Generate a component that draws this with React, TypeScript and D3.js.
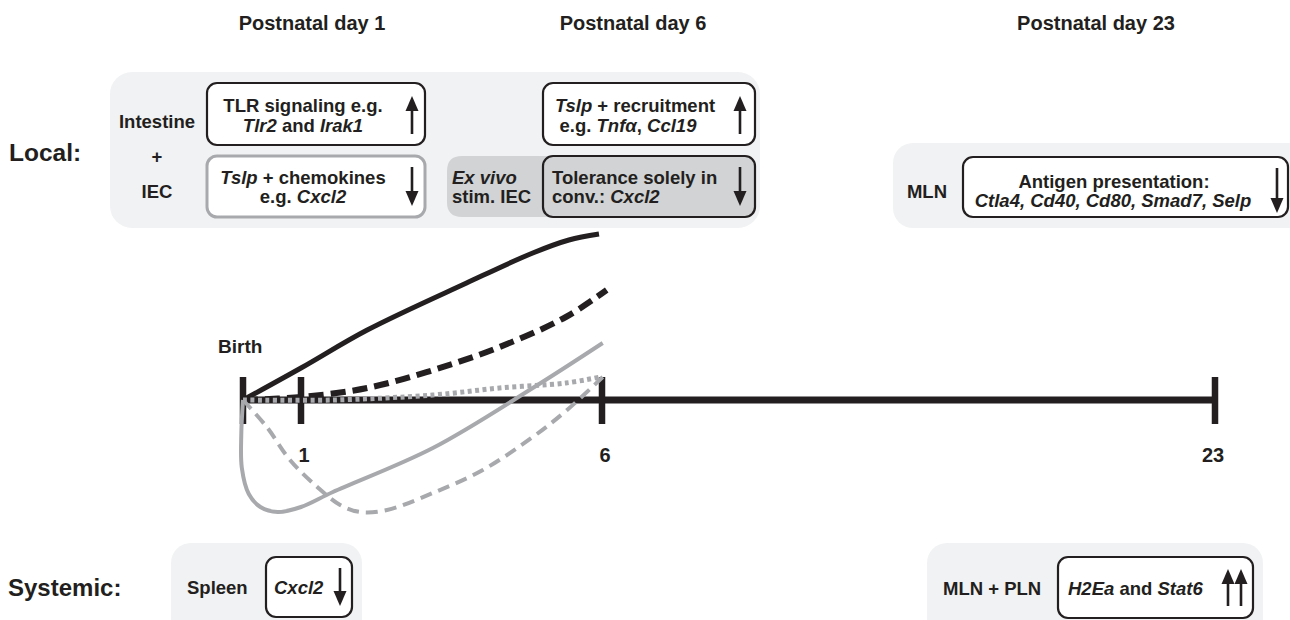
import React from "react";
import * as d3 from "d3";

// ---- data ----
const dayTicks = [0, 1, 6, 23];
const dayTickLabels = ["", "1", "6", "23"];
const periodLabels = ["Postnatal day 1", "Postnatal day 6", "Postnatal day 23"];

// curves: [postnatal day, relative expression level]
const blackSolid: [number, number][] = [[0, 0], [1, 32], [2.1, 70], [3.75, 117], [4.85, 147], [5.45, 160], [5.95, 166]];
const blackDashed: [number, number][] = [[0, 0], [1, 3], [2.1, 12], [3.2, 30], [4.3, 53], [5.4, 83], [6.13, 110]];
const grayDotted: [number, number][] = [[0, 0], [1.53, 0], [3.19, 5], [4.3, 12], [5.4, 17], [5.97, 23]];
const grayDashed: [number, number][] = [[0, 0], [0.41, -27], [0.81, -60], [1.27, -87], [1.65, -105], [1.98, -112], [2.43, -110], [3.19, -93], [4.02, -70], [4.85, -37], [5.42, -10], [6.02, 23]];
const graySolid: [number, number][] = [[0, 0], [-0.03, -35], [-0.02, -68], [0.1, -94], [0.3, -107], [0.6, -112], [1.0, -107], [1.53, -92], [3.19, -48], [4.85, 12], [6.02, 57]];

const BLACK = "#231f20";
const GRAY = "#a7a9ac";
const PANEL = "#f1f2f3";
const DARK = "#d1d3d4";
const FONT = "'Liberation Sans', Arial, Helvetica, sans-serif";

const xScale = d3.scaleLinear().domain(dayTicks).range([243, 301, 602, 1215]);
const yScale = d3.scaleLinear().domain([0, 100]).range([400, 300]);
const lineGen = d3
  .line<[number, number]>()
  .x((d) => xScale(d[0]))
  .y((d) => yScale(d[1]))
  .curve(d3.curveCatmullRom.alpha(0.5));

function Arrow({ x, tail, tip }: { x: number; tail: number; tip: number }) {
  const dir = tip < tail ? -1 : 1;
  const h = 15;
  const w = 6.5;
  const base = tip - dir * h;
  return (
    <g>
      <line x1={x} x2={x} y1={tail} y2={base} stroke={BLACK} strokeWidth={2.6} />
      <path d={`M${x - w},${base} L${x + w},${base} L${x},${tip} Z`} fill={BLACK} />
    </g>
  );
}

const T = (props: any) => (
  <text fontFamily={FONT} fontWeight="bold" fill={BLACK} fontSize={18.5} {...props} />
);
const I = ({ children }: any) => <tspan fontStyle="italic">{children}</tspan>;

export default function App() {
  return (
    <svg
      width={1290}
      height={620}
      viewBox="0 0 1290 620"
      style={{ position: "absolute", left: 0, top: 0, display: "block", background: "#fff" }}
    >
      {/* headings */}
      {periodLabels.map((l, i) => (
        <T key={l} x={[312, 633, 1096][i]} y={30} textAnchor="middle" fontSize={20}>
          {l}
        </T>
      ))}
      <T x={9} y={161} fontSize={24.5}>Local:</T>
      <T x={8} y={596} fontSize={24}>Systemic:</T>

      {/* local intestine panel */}
      <rect x={110} y={72} width={650} height={156} rx={22} fill={PANEL} />
      <T x={157} y={128} textAnchor="middle">Intestine</T>
      <T x={157} y={163} textAnchor="middle">+</T>
      <T x={157} y={198} textAnchor="middle">IEC</T>

      <rect x={207} y={83} width={218} height={62} rx={10} fill="#fff" stroke={BLACK} strokeWidth={2.2} />
      <T x={303} y={112} textAnchor="middle">TLR signaling e.g.</T>
      <T x={303} y={132} textAnchor="middle">
        <I>Tlr2</I> and <I>Irak1</I>
      </T>
      <Arrow x={412} tail={134} tip={96} />

      <rect x={207} y={156} width={218} height={61} rx={10} fill="#fff" stroke={GRAY} strokeWidth={3} />
      <T x={303} y={184} textAnchor="middle">
        <I>Tslp</I> + chemokines
      </T>
      <T x={303} y={203} textAnchor="middle">
        e.g. <I>Cxcl2</I>
      </T>
      <Arrow x={412} tail={167} tip={206} />

      <rect x={543} y={83} width={212} height={62} rx={10} fill="#fff" stroke={BLACK} strokeWidth={2.2} />
      <T x={635} y={112} textAnchor="middle">
        <I>Tslp</I> + recruitment
      </T>
      <T x={628} y={132} textAnchor="middle">
        e.g. <I>Tnfα</I>, <I>Ccl19</I>
      </T>
      <Arrow x={740} tail={134} tip={96} />

      <path d="M700,156 L462,156 Q447,156 447,171 L447,202 Q447,217 462,217 L700,217 Z" fill={DARK} />
      <T x={452} y={184}>
        <I>Ex vivo</I>
      </T>
      <T x={452} y={203}>stim. IEC</T>
      <rect x={543} y={156} width={212} height={61} rx={10} fill={DARK} stroke={BLACK} strokeWidth={2.2} />
      <T x={552} y={184}>Tolerance solely in</T>
      <T x={552} y={203}>
        conv.: <I>Cxcl2</I>
      </T>
      <Arrow x={740} tail={167} tip={206} />

      {/* MLN panel */}
      <rect x={893} y={143} width={420} height={85} rx={20} fill={PANEL} />
      <T x={927} y={198} textAnchor="middle">MLN</T>
      <rect x={963} y={157} width={325} height={60} rx={10} fill="#fff" stroke={BLACK} strokeWidth={2.2} />
      <T x={1114} y={188} textAnchor="middle">Antigen presentation:</T>
      <T x={1113} y={207} textAnchor="middle">
        <I>Ctla4, Cd40, Cd80, Smad7, Selp</I>
      </T>
      <Arrow x={1277} tail={168} tip={213} />

      {/* systemic panels */}
      <rect x={171} y={543} width={191} height={110} rx={20} fill={PANEL} />
      <T x={187} y={594}>Spleen</T>
      <rect x={266} y={557} width={86} height={60} rx={10} fill="#fff" stroke={BLACK} strokeWidth={2.2} />
      <T x={274} y={594}>
        <I>Cxcl2</I>
      </T>
      <Arrow x={340} tail={568} tip={606} />

      <rect x={927} y={543} width={336} height={110} rx={20} fill={PANEL} />
      <T x={943} y={595}>MLN + PLN</T>
      <rect x={1058} y={557} width={195} height={61} rx={10} fill="#fff" stroke={BLACK} strokeWidth={2.2} />
      <T x={1068} y={595}>
        <I>H2Ea</I> and <I>Stat6</I>
      </T>
      <Arrow x={1228} tail={606} tip={569} />
      <Arrow x={1241} tail={606} tip={569} />

      {/* timeline */}
      <line x1={xScale(0)} x2={xScale(23)} y1={yScale(0)} y2={yScale(0)} stroke={BLACK} strokeWidth={7} />
      {dayTicks.map((d) => (
        <line key={d} x1={xScale(d)} x2={xScale(d)} y1={377} y2={424} stroke={BLACK} strokeWidth={6.5} />
      ))}
      {dayTicks.map((d, i) =>
        dayTickLabels[i] ? (
          <T key={"l" + d} x={xScale(d) + (d === 23 ? -2 : 3)} y={462} textAnchor="middle" fontSize={20}>
            {dayTickLabels[i]}
          </T>
        ) : null
      )}
      <T x={218} y={353} fontSize={19}>Birth</T>

      {/* curves */}
      <path d={lineGen(blackSolid) || ""} fill="none" stroke={BLACK} strokeWidth={5} strokeLinecap="butt" />
      <path d={lineGen(blackDashed) || ""} fill="none" stroke={BLACK} strokeWidth={6} strokeDasharray="15 7" />
      <path d={lineGen(graySolid) || ""} fill="none" stroke={GRAY} strokeWidth={4} />
      <path d={lineGen(grayDashed) || ""} fill="none" stroke={GRAY} strokeWidth={4} strokeDasharray="12 7" />
      <path d={lineGen(grayDotted) || ""} fill="none" stroke={GRAY} strokeWidth={5} strokeDasharray="4 3.5" />
    </svg>
  );
}
